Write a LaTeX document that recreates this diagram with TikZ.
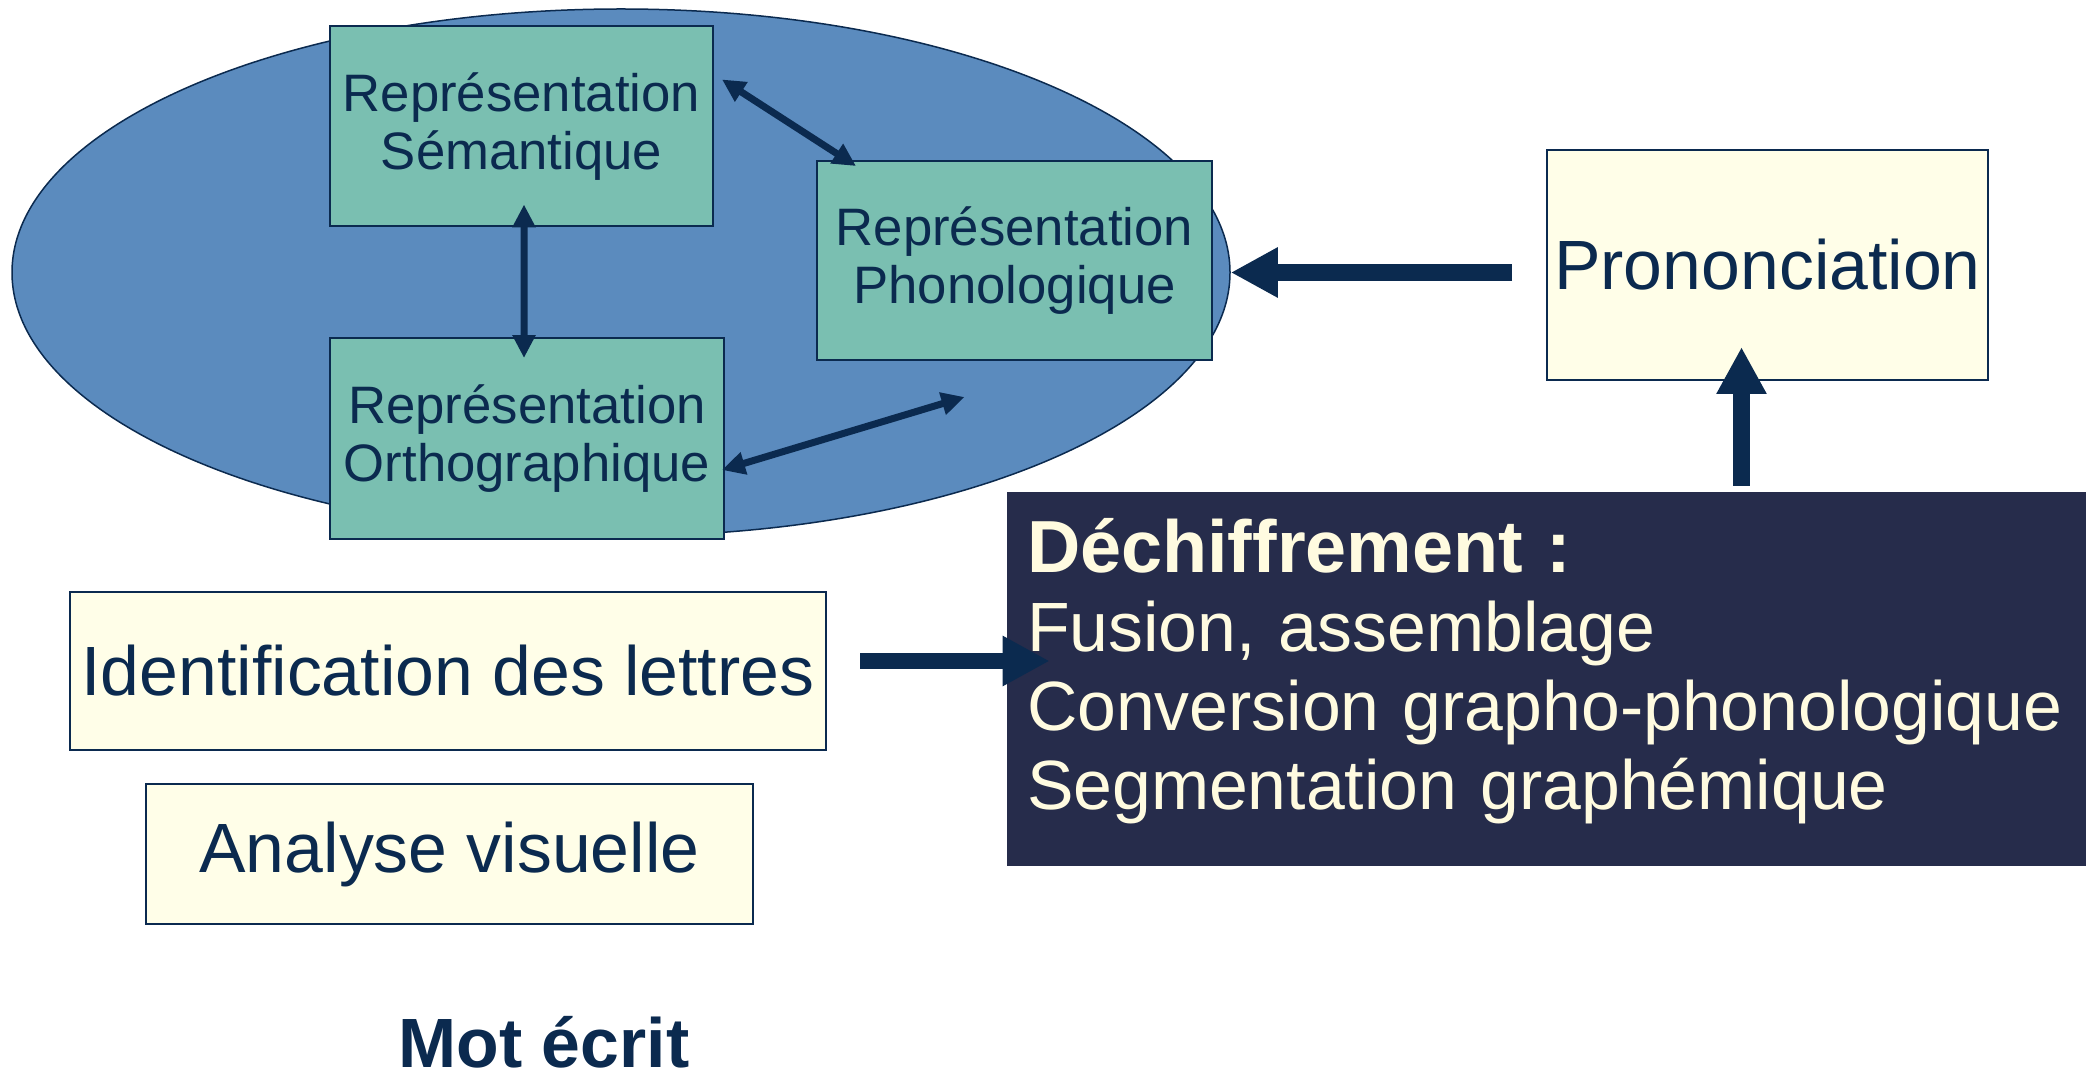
\documentclass[tikz,border=0pt]{standalone}
\usepackage{fontspec}
\setmainfont{Liberation Sans}[Ligatures=NoCommon]
\usetikzlibrary{shapes.geometric,arrows.meta,calc}
\definecolor{ellblue}{HTML}{5B8BBE}
\definecolor{repteal}{HTML}{7ABFB1}
\definecolor{paleyel}{HTML}{FFFEE8}
\definecolor{inkblue}{HTML}{0B2A4F}
\definecolor{darkbox}{HTML}{262C4B}
\definecolor{creamtxt}{HTML}{FFFBE0}
\newcommand{\pxl}{0.02cm}
\tikzset{
  box/.style={draw=inkblue,line width=0.04cm,inner sep=0pt,text=inkblue,align=center},
  rep/.style={box,fill=repteal,font=\fontsize{30}{33}\selectfont},
  lab/.style={box,fill=paleyel,font=\fontsize{39.7}{45}\selectfont},
  dbl/.style={inkblue,line width=0.14cm,{Triangle[length=0.46cm,width=0.44cm]}-{Triangle[length=0.46cm,width=0.44cm]}},
  big/.style={inkblue,line width=0.34cm,-{Triangle[length=0.94cm,width=0.94cm]}}
}
\begin{document}
\begin{tikzpicture}[x=0.02cm,y=-0.02cm]
\useasboundingbox (0,0) rectangle (2086,1077);
\node[ellipse,draw=inkblue,fill=ellblue,line width=0.03cm,minimum width=1218*\pxl,minimum height=527*\pxl] (ell) at (621,272.5) {};
\node[rep,minimum width=383*\pxl,minimum height=200*\pxl] (sem) at (521.5,126.5) {Représentation\\Sémantique};
\node[rep,minimum width=395*\pxl,minimum height=199*\pxl] (phon) at (1014.5,260.5) {Représentation\\Phonologique};
\node[rep,minimum width=394*\pxl,minimum height=201*\pxl] (orth) at (527,438.5) {Représentation\\Orthographique};
\draw[dbl] ($(sem.north east)+(8,54)$) -- ($(phon.north west)+(40,6)$);
\draw[dbl] ($(sem.south)+(2.5,-23)$) -- ($(orth.north)+(-3,21)$);
\draw[dbl] ($(orth.north east)+(-3,133)$) -- ($(phon.south)+(-50,36)$);
\node[lab,minimum width=441*\pxl,minimum height=230*\pxl] (pron) at (1767.5,265) {Prononciation};
\node[lab,minimum width=756*\pxl,minimum height=158*\pxl] (ident) at (448,671) {Identification des lettres};
\node[lab,minimum width=607*\pxl,minimum height=140*\pxl] (anal) at (449.5,854) {Analyse visuelle};
\node[fill=darkbox,text=creamtxt,align=left,inner xsep=20*\pxl,inner ysep=0pt,text width=1052*\pxl,minimum height=374*\pxl,font=\fontsize{39.7}{45}\selectfont] (dech) at (1553,679) {{\fontsize{42}{45}\selectfont\bfseries Déchiffrement :}\\Fusion, assemblage\\Conversion grapho-phonologique\\Segmentation graphémique\rule[-0.6cm]{0pt}{0pt}};
\node[text=inkblue,inner sep=0pt,font=\fontsize{39.7}{45}\selectfont\bfseries,anchor=base] (mot) at (544,1067) {Mot écrit};
\draw[big] ($(pron.west)+(-34,7.5)$) -- (ell.east);
\draw[big] ($(pron.south)+(-26,105)$) -- ($(pron.south)+(-26,-34)$);
\draw[big] ($(ident.east)+(33,-10)$) -- ($(dech.west)+(43,-18)$);
\end{tikzpicture}
\end{document}
